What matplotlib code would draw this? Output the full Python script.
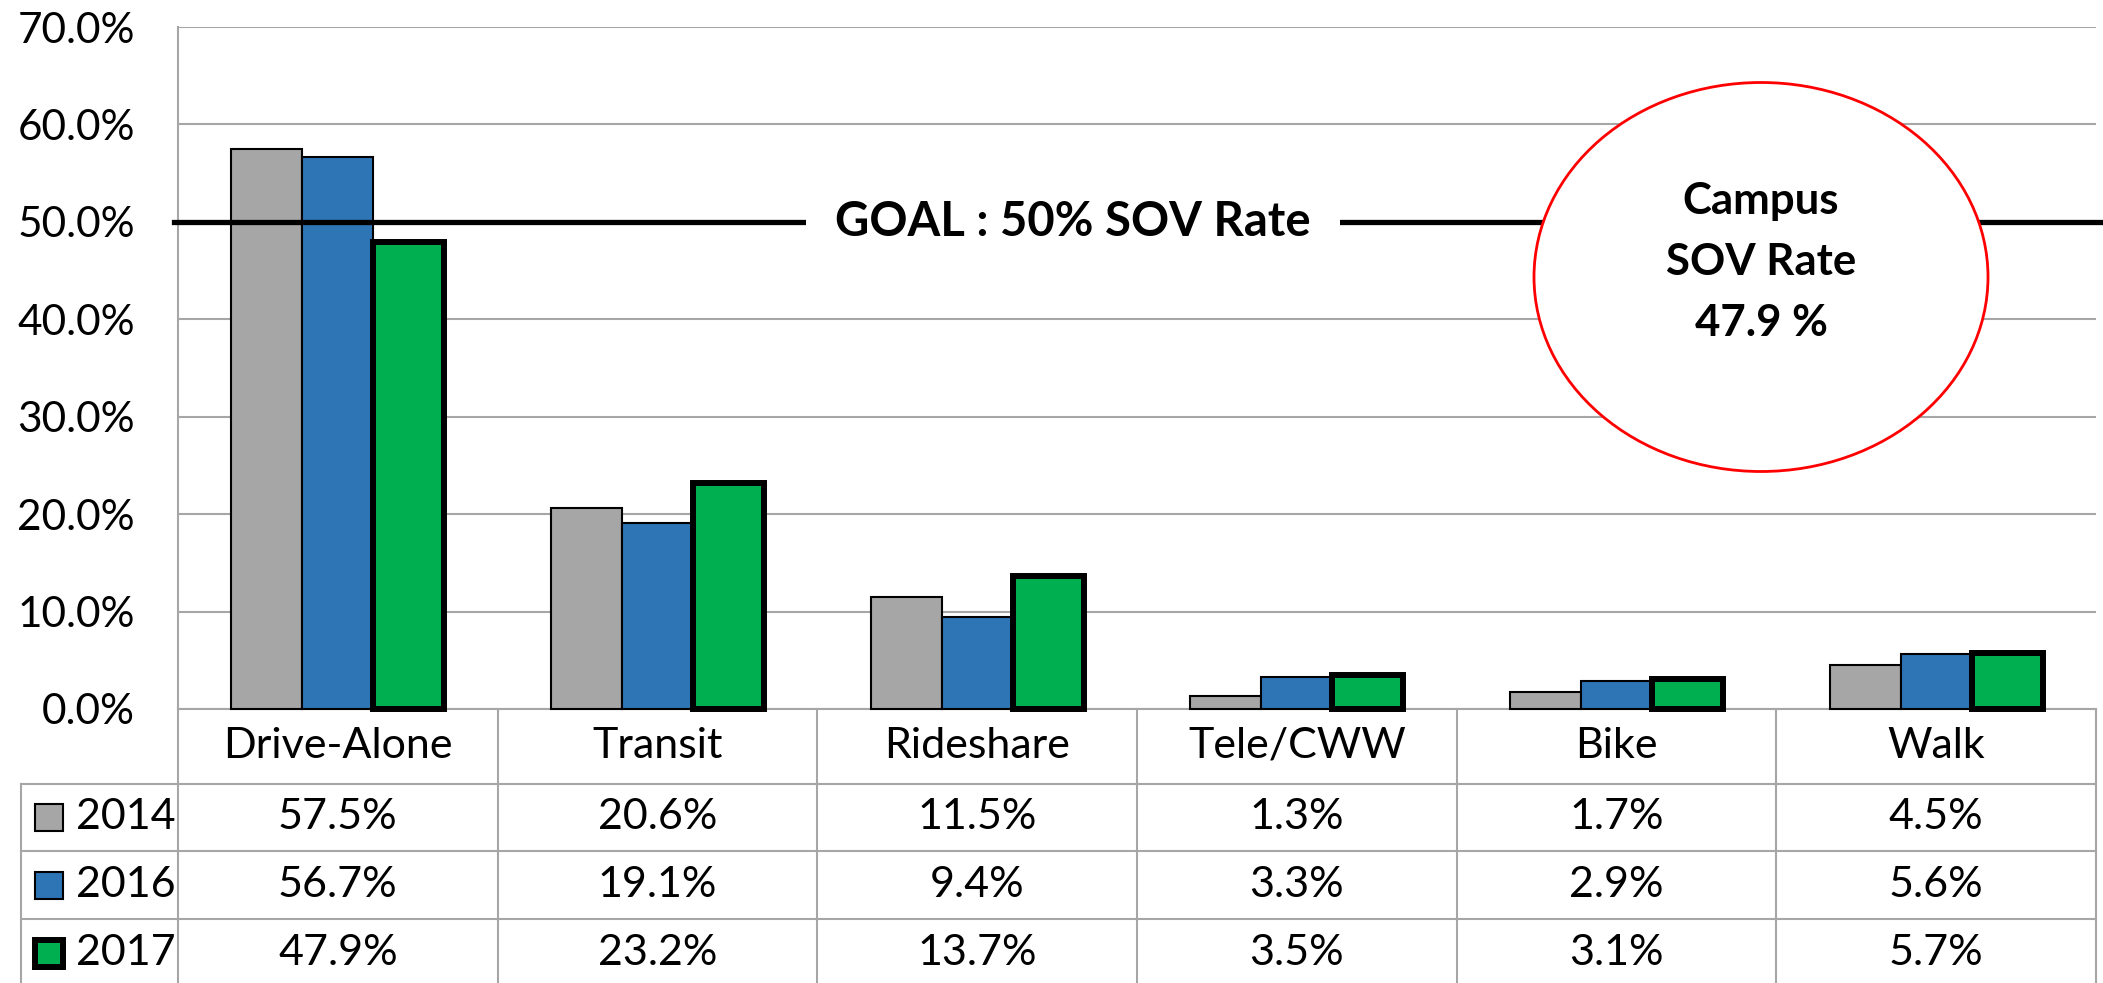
import matplotlib.pyplot as plt
import numpy as np
from matplotlib.patches import Ellipse, Rectangle
from matplotlib.lines import Line2D
from matplotlib.transforms import blended_transform_factory

plt.rcParams['font.family'] = ['Lato', 'DejaVu Sans']

modes = ['Drive-Alone', 'Transit', 'Rideshare', 'Tele/CWW', 'Bike', 'Walk']
years = ['2014', '2016', '2017']
share_2014 = [57.5, 20.6, 11.5, 1.3, 1.7, 4.5]
share_2016 = [56.7, 19.1, 9.4, 3.3, 2.9, 5.6]
share_2017 = [47.9, 23.2, 13.7, 3.5, 3.1, 5.7]
goal = 50
campus_rate = 47.9
yticks = [0, 10, 20, 30, 40, 50, 60, 70]

colors = ['#A6A6A6', '#2E75B6', '#00B050']
edge_widths = [1.5, 1.5, 4.3]
grid_gray = '#A6A6A6'

W, H = 2103, 983
fig = plt.figure(figsize=(W / 100, H / 100), dpi=100)
ax = fig.add_axes([178 / W, 1 - 709 / H, (2096 - 178) / W, (709 - 27) / H])


def fy(y):
    # pixel row from the top -> figure fraction
    return 1 - y / H


x = np.arange(len(modes))
bw = 0.222
series = [share_2014, share_2016, share_2017]
for i, (vals, c, lw) in enumerate(zip(series, colors, edge_widths)):
    ax.bar(x + (i - 1) * bw, vals, bw, color=c, edgecolor='black',
           linewidth=lw, zorder=3, clip_on=False)

ax.set_xlim(-0.5, len(modes) - 0.5)
ax.set_ylim(0, 70)
ax.set_yticks(yticks)
ax.set_yticklabels([f'{v:.1f}%' for v in yticks])
ax.set_xticks([])
ax.tick_params(axis='y', length=0, pad=31, labelsize=30.5)
ax.grid(axis='y', color=grid_gray, lw=1.5, zorder=0)
ax.set_axisbelow(True)
for s in ['top', 'right']:
    ax.spines[s].set_visible(False)
for s in ['left', 'bottom']:
    ax.spines[s].set_color(grid_gray)
    ax.spines[s].set_linewidth(1.5)

# goal line + label
ytr = ax.get_yaxis_transform()
ax.plot([-0.002, 1.004], [goal, goal], transform=ytr, color='black', lw=3.8,
        clip_on=False, zorder=4)
ax.text(0.4666, goal, f'GOAL : {goal}% SOV Rate', transform=ytr, ha='center',
        va='center', fontsize=34, fontweight='bold', zorder=5,
        bbox=dict(fc='white', ec='none', pad=21))

# campus SOV circle
ax.add_patch(Ellipse((1761 / W, fy(277)), 454 / W, 389 / H, transform=fig.transFigure,
                     fc='white', ec='red', lw=2, zorder=6, clip_on=False))
ax.text(1761 / W, fy(262), f'Campus\nSOV Rate\n{campus_rate} %', transform=fig.transFigure,
        ha='center', va='center', fontsize=31.5, fontweight='bold', linespacing=1.65,
        zorder=7)

# data table under the chart
trans = blended_transform_factory(ax.transData, fig.transFigure)
line_kw = dict(color=grid_gray, lw=1.5)
for b in np.arange(-0.5, len(modes)):
    fig.add_artist(Line2D([b, b], [fy(709), fy(983)], transform=trans, **line_kw))
fig.add_artist(Line2D([21 / W, 21 / W], [fy(784), fy(983)], transform=fig.transFigure, **line_kw))
for yy in [784, 851, 919]:
    fig.add_artist(Line2D([21 / W, 2096 / W], [fy(yy), fy(yy)], transform=fig.transFigure, **line_kw))

for i, m in enumerate(modes):
    fig.text(i, fy(746), m, transform=trans, ha='center', va='center', fontsize=31)

row_centers = [817, 885, 953]
for r, (vals, c, lw, yr) in enumerate(zip(series, colors, edge_widths, years)):
    yc = row_centers[r]
    for i, v in enumerate(vals):
        fig.text(i, fy(yc), f'{v:.1f}%', transform=trans, ha='center', va='center',
                 fontsize=31)
    fig.add_artist(Rectangle((35 / W, fy(yc) - 13.5 / H), 28 / W, 27 / H,
                             transform=fig.transFigure, fc=c, ec='black', lw=lw))
    fig.text(76 / W, fy(yc), yr, ha='left', va='center', fontsize=31)

fig.savefig('out.png', dpi=100)
